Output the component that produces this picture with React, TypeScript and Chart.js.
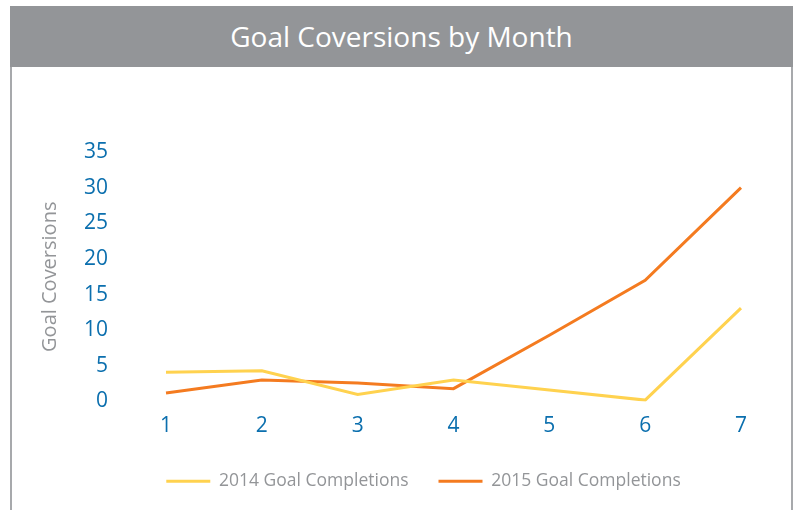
import React, { useEffect, useRef } from "react";
import { Chart, registerables } from "chart.js";

Chart.register(...registerables);

const months = ["1", "2", "3", "4", "5", "6", "7"];
const completions2014 = [4.1, 4.3, 1.0, 3.0, 1.6, 0.2, 13.1];
const completions2015 = [1.2, 3.0, 2.6, 1.8, 9.3, 17.0, 30.0];
const seriesNames = ["2014 Goal Completions", "2015 Goal Completions"];
const yMin = 0;
const yMax = 35;
const yStep = 5;

const FONT = "'Open Sans', 'DejaVu Sans', sans-serif";

export default function App() {
  const ref = useRef<HTMLCanvasElement | null>(null);

  useEffect(() => {
    if (!ref.current) return;
    const chart = new Chart(ref.current, {
      type: "line",
      data: {
        labels: months,
        datasets: [
          {
            label: seriesNames[0],
            data: completions2014,
            borderColor: "#ffd24f",
            backgroundColor: "#ffd24f",
            borderWidth: 3,
            pointRadius: 0,
            tension: 0,
            yAxisID: "y",
          },
          {
            label: seriesNames[1],
            data: completions2015,
            borderColor: "#f47b20",
            backgroundColor: "#f47b20",
            borderWidth: 3,
            pointRadius: 0,
            tension: 0,
            yAxisID: "y",
          },
        ],
      },
      options: {
        animation: false,
        responsive: false,
        devicePixelRatio: 1,
        layout: { padding: { top: 152, left: 0, right: 0, bottom: 100 } },
        plugins: {
          title: { display: false },
          tooltip: { enabled: false },
          legend: {
            display: true,
            position: "bottom",
            labels: {
              font: { family: FONT, size: 17.5 },
              color: "#939598",
              boxWidth: 44,
              boxHeight: 3,
              padding: 30,
              generateLabels: (c: any) =>
                Chart.defaults.plugins.legend.labels
                  .generateLabels(c)
                  .map((l: any) => ({ ...l, lineWidth: 0, fillStyle: l.strokeStyle })),
            },
          },
        },
        scales: {
          x: {
            type: "category",
            offset: false,
            grid: { display: false, drawTicks: false },
            border: { display: false },
            ticks: {
              font: { family: FONT, size: 21 },
              color: "#0b6fae",
              padding: 12,
              maxRotation: 0,
            },
            afterFit: (s: any) => {
              s.height = 41;
            },
          },
          y: {
            type: "linear",
            position: "left",
            min: yMin,
            max: yMax,
            grid: { display: false, drawTicks: false },
            border: { display: false },
            ticks: {
              stepSize: yStep,
              font: { family: FONT, size: 21 },
              color: "#0b6fae",
              padding: 58,
            },
            title: {
              display: true,
              text: "Goal Coversions",
              font: { family: FONT, size: 20 },
              color: "#939598",
              padding: { top: 8, bottom: 0 },
            },
            afterFit: (s: any) => {
              s.width = 136;
            },
          },
          y2: {
            type: "linear",
            position: "right",
            display: true,
            grid: { display: false, drawTicks: false },
            border: { display: false },
            ticks: { display: false },
            afterFit: (s: any) => {
              s.width = 76;
            },
          },
        },
      },
    });
    return () => chart.destroy();
  }, []);

  return (
    <div
      style={{
        position: "fixed",
        left: 0,
        top: 0,
        width: 796,
        height: 510,
        overflow: "hidden",
        background: "#ffffff",
      }}
    >
      <div
        style={{
          position: "absolute",
          left: 10,
          top: 6,
          width: 783,
          height: 61,
          background: "#939598",
          color: "#ffffff",
          fontFamily: FONT,
          fontSize: 28,
          lineHeight: "61px",
          textAlign: "center",
        }}
      >
        Goal Coversions by Month
      </div>
      <div style={{ position: "absolute", left: 10, top: 67, width: 2, height: 443, background: "#a7a9ac" }} />
      <div style={{ position: "absolute", left: 791, top: 67, width: 2, height: 443, background: "#a7a9ac" }} />
      <canvas
        ref={ref}
        width={787}
        height={600}
        style={{ position: "absolute", left: 30, top: 0, width: 787, height: 600 }}
      />
    </div>
  );
}
